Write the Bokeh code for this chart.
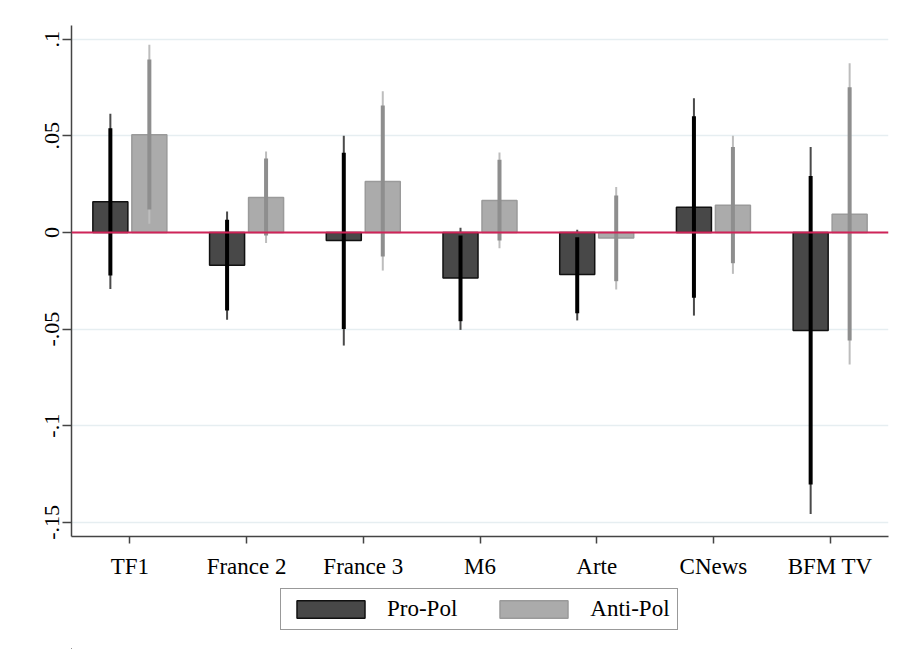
from bokeh.plotting import figure
from bokeh.layouts import column
from bokeh.models import ColumnDataSource, FactorRange, FixedTicker, Legend, LegendItem, Span
from bokeh.transform import dodge
from bokeh.embed import file_html
from bokeh.resources import INLINE

channels = ["TF1", "France 2", "France 3", "M6", "Arte", "CNews", "BFM TV"]

pro = [0.0159, -0.0169, -0.0041, -0.0236, -0.0218, 0.0131, -0.0507]
pro_lo90 = [-0.0223, -0.0404, -0.0499, -0.0459, -0.0418, -0.0338, -0.1304]
pro_hi90 = [0.0540, 0.0066, 0.0412, -0.0016, -0.0024, 0.0602, 0.0292]
pro_lo95 = [-0.0293, -0.0452, -0.0585, -0.0504, -0.0455, -0.0430, -0.1456]
pro_hi95 = [0.0614, 0.0109, 0.0500, 0.0024, 0.0014, 0.0695, 0.0442]

anti = [0.0506, 0.0181, 0.0264, 0.0166, -0.0028, 0.0141, 0.0095]
anti_lo90 = [0.0119, -0.0016, -0.0124, -0.0041, -0.0252, -0.0159, -0.0559]
anti_hi90 = [0.0895, 0.0383, 0.0657, 0.0376, 0.0191, 0.0442, 0.0752]
anti_lo95 = [0.0045, -0.0055, -0.0197, -0.0081, -0.0295, -0.0214, -0.0683]
anti_hi95 = [0.0971, 0.0419, 0.0731, 0.0414, 0.0235, 0.0500, 0.0876]

y_ticks = [0.1, 0.05, 0.0, -0.05, -0.1, -0.15]
y_tick_labels = [".1", ".05", "0", "-.05", "-.1", "-.15"]
series_labels = ["Pro-Pol", "Anti-Pol"]

src = ColumnDataSource(dict(
    ch=channels, pro=pro, anti=anti,
    pro_lo90=pro_lo90, pro_hi90=pro_hi90, pro_lo95=pro_lo95, pro_hi95=pro_hi95,
    anti_lo90=anti_lo90, anti_hi90=anti_hi90, anti_lo95=anti_lo95, anti_hi95=anti_hi95,
))

FONT = "Liberation Serif"
PRO_FILL, PRO_LINE = "#484848", "#111111"
ANTI_FILL, ANTI_LINE = "#ababab", "#9a9a9a"

p = figure(width=894, height=586, x_range=FactorRange(*channels, range_padding=0),
           y_range=(-0.1573, 0.1071), output_backend="svg", toolbar_location=None,
           min_border_left=71, min_border_right=6, min_border_top=25, min_border_bottom=50)
p.outline_line_color = None
p.background_fill_color = "white"
p.border_fill_color = "white"

OFF = 0.167
W = 0.30

r_pro = p.vbar(x=dodge("ch", -OFF, range=p.x_range), top="pro", bottom=0, width=W, source=src,
               fill_color=PRO_FILL, line_color=PRO_LINE, line_width=1.5)
r_anti = p.vbar(x=dodge("ch", OFF, range=p.x_range), top="anti", bottom=0, width=W, source=src,
                fill_color=ANTI_FILL, line_color=ANTI_LINE, line_width=1.5)

zero = Span(location=0, dimension="width", line_color="#cf2458", line_width=2)
p.add_layout(zero)

# outer (95%) thin lines
p.segment(x0=dodge("ch", -OFF, range=p.x_range), x1=dodge("ch", -OFF, range=p.x_range),
          y0="pro_lo95", y1="pro_hi95", source=src, line_color="#4a4a4a", line_width=2)
p.segment(x0=dodge("ch", OFF, range=p.x_range), x1=dodge("ch", OFF, range=p.x_range),
          y0="anti_lo95", y1="anti_hi95", source=src, line_color="#bdbdbd", line_width=2)
# inner (90%) thick lines
p.segment(x0=dodge("ch", -OFF, range=p.x_range), x1=dodge("ch", -OFF, range=p.x_range),
          y0="pro_lo90", y1="pro_hi90", source=src, line_color="#000000", line_width=4)
p.segment(x0=dodge("ch", OFF, range=p.x_range), x1=dodge("ch", OFF, range=p.x_range),
          y0="anti_lo90", y1="anti_hi90", source=src, line_color="#8e8e8e", line_width=4)

# axes
p.yaxis.ticker = FixedTicker(ticks=y_ticks)
p.yaxis.major_label_overrides = {t: l for t, l in zip(y_ticks, y_tick_labels)}
p.yaxis.major_label_orientation = "vertical"
p.yaxis.minor_tick_line_color = None
p.yaxis.major_tick_out = 9
p.yaxis.major_tick_in = 0
p.yaxis.major_label_standoff = 3
for ax in (p.xaxis, p.yaxis):
    ax.axis_line_color = "#444444"
    ax.axis_line_width = 1.5
    ax.major_tick_line_color = "#444444"
    ax.major_tick_line_width = 1.5
    ax.major_label_text_font = FONT
    ax.major_label_text_font_size = "23px"
    ax.major_label_text_color = "#000000"
p.yaxis.major_label_text_font_size = "22px"
p.xaxis.major_tick_out = 7
p.xaxis.major_tick_in = 0
p.xaxis.major_label_standoff = 10
p.xaxis.major_label_orientation = "horizontal"

p.xgrid.grid_line_color = None
p.ygrid.grid_line_color = "#e6eef1"
p.ygrid.grid_line_width = 1.5

# legend strip below the chart (its swatch renderers lie outside its visible range)
lg = figure(width=894, height=63, output_backend="svg", toolbar_location=None,
            x_axis_type=None, y_axis_type=None, min_border=0,
            x_range=(10, 11), y_range=(10, 11))
lg.outline_line_color = None
lg.grid.grid_line_color = None
lg_pro = lg.vbar(x="pro", top="pro", width=0.01, source=src,
                 fill_color=PRO_FILL, line_color=PRO_LINE, line_width=1.5)
lg_anti = lg.vbar(x="anti", top="anti", width=0.01, source=src,
                  fill_color=ANTI_FILL, line_color=ANTI_LINE, line_width=1.5)
legend = Legend(items=[LegendItem(label=series_labels[0], renderers=[lg_pro]),
                       LegendItem(label=series_labels[1], renderers=[lg_anti])],
                orientation="horizontal", location=(209, 19),
                glyph_width=85, glyph_height=22, label_standoff=14, spacing=34,
                padding=7, margin=0,
                label_text_font=FONT, label_text_font_size="23px", label_text_color="#000000",
                border_line_color="#333333", border_line_width=1.5,
                background_fill_color="white", background_fill_alpha=1.0)
lg.add_layout(legend, "center")

layout = column(p, lg, spacing=0)
open("out.html", "w").write(file_html(layout, INLINE))
